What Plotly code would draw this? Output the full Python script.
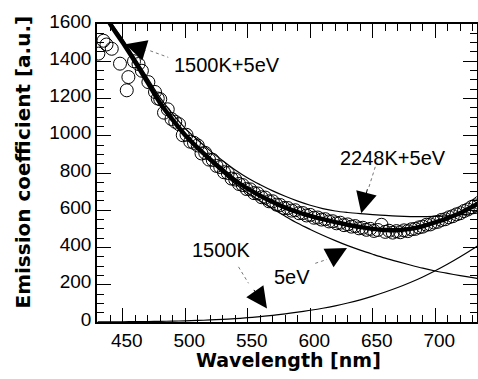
import plotly.graph_objects as go

# ---------------- data ----------------
wl_curve = [430, 440, 450, 460, 470, 480, 490, 500, 510, 520, 530, 540, 550, 560,
            570, 580, 590, 600, 610, 620, 630, 640, 650, 660, 670, 680, 690, 700,
            710, 720, 730, 740]

bb_1500K = [0.5, 0.7, 1.2, 1.8, 2.5, 3.4, 4.6, 6.2, 8.3, 11, 14, 18, 23, 29,
            36, 44, 53, 63, 74, 87, 102, 119, 139, 161, 185, 212, 242, 275,
            311, 350, 392, 437]

ev_5eV = [1720, 1599, 1499, 1393, 1283, 1172, 1080, 997, 927, 862, 801, 742, 693, 650,
          608, 568, 530, 497, 466, 437, 410, 386, 364, 343, 324, 306, 289, 274,
          261, 249, 238, 228]

fit_1500K_5eV = [1720, 1600, 1500, 1395, 1285, 1175, 1085, 1003, 935, 873, 815, 760, 716, 678,
                 644, 614, 590, 570, 552, 536, 522, 510, 500, 494, 493, 500, 514, 535,
                 558, 585, 620, 658]

fit_2248K_5eV = [1731, 1613, 1517, 1414, 1308, 1203, 1116, 1040, 977, 919, 866, 816, 773, 737,
                 704, 675, 649, 627, 609, 596, 588, 582, 577, 572, 568, 566, 566, 567,
                 570, 575, 582, 590]

wl_data = [430.5, 434.6, 437.0, 441.2, 447.8, 453.2, 454.5, 459.0, 462.6, 465.3, 470.5, 475.8, 478.0,
           480, 483, 486, 489, 492, 495, 498, 501, 504, 507, 510, 513, 516, 519, 522, 525,
           528, 531, 534, 537, 540, 543, 546, 549, 552, 555, 558, 561, 564, 567, 570, 573,
           576, 579, 582, 585, 588, 591, 594, 597, 600, 603, 606, 609, 612, 615, 618, 621,
           624, 627, 630, 633, 636, 639, 642, 645, 648, 651, 654, 657, 660, 663, 666, 669,
           672, 675, 678, 681, 684, 687, 690, 693, 696, 699, 702, 705, 708, 711, 714, 717,
           720, 723, 726, 729, 732, 735]

em_data = [1441, 1510, 1490, 1467, 1387, 1244, 1315, 1400, 1385, 1349, 1288, 1235, 1200,
           1196, 1124, 1142, 1090, 1075, 1062, 1003, 1005, 968, 962, 948, 905, 908, 872, 870, 838,
           832, 804, 800, 770, 765, 741, 735, 714, 712, 692, 690, 670, 668, 648, 648, 630,
           628, 612, 612, 598, 600, 584, 585, 572, 575, 560, 561, 550, 552, 540, 541, 530,
           533, 520, 524, 512, 515, 503, 506, 495, 500, 489, 494, 522, 484, 490, 480, 488,
           482, 492, 488, 498, 500, 508, 512, 522, 524, 534, 538, 548, 552, 562, 568, 578,
           584, 596, 604, 617, 626, 640]

x_ticks = [450, 500, 550, 600, 650, 700]
y_ticks = [0, 200, 400, 600, 800, 1000, 1200, 1400, 1600]

# annotation placement (tip in data units, tail offset in px, label anchor)
labels = [
    # text, label_x, label_y, tip_x, tip_y, ax, ay, dot_x0, dot_y0, dot_x1, dot_y1
    ("1500K+5eV", 489.0, 1378, 452.0, 1491, 21.5, 6.5, 472.0, 1456, 486.4, 1421),
    ("2248K+5eV", 622.4, 882, 640.8, 584, 6.5, -25.5, 652.0, 833, 646.6, 717),
    ("1500K", 504.0, 386, 565.4, 73, -14.2, -20, 542.6, 296, 550.6, 208),
    ("5eV", 569.4, 244, 629.4, 397, -18.4, 10, 604.0, 315, 613.4, 336),
]

fig = go.Figure()

fig.add_trace(go.Scatter(x=wl_data, y=em_data, mode="markers",
                         marker=dict(symbol="circle-open", size=13, color="black",
                                     line=dict(width=1, color="black")),
                         showlegend=False))
fig.add_trace(go.Scatter(x=wl_curve, y=bb_1500K, mode="lines", line_shape="spline",
                         line=dict(color="black", width=1.2), showlegend=False))
fig.add_trace(go.Scatter(x=wl_curve, y=ev_5eV, mode="lines", line_shape="spline",
                         line=dict(color="black", width=1.2), showlegend=False))
fig.add_trace(go.Scatter(x=wl_curve, y=fit_2248K_5eV, mode="lines", line_shape="spline",
                         line=dict(color="black", width=1.2), showlegend=False))
fig.add_trace(go.Scatter(x=wl_curve, y=fit_1500K_5eV, mode="lines", line_shape="spline",
                         line=dict(color="black", width=4.5), showlegend=False))

lab_font = dict(family="Liberation Sans, Arial, sans-serif", size=20, color="black")
for (txt, lx, ly, tx, ty, ax, ay, dx0, dy0, dx1, dy1) in labels:
    fig.add_annotation(x=lx, y=ly, text=txt, showarrow=False, xanchor="left",
                       yanchor="middle", font=lab_font)
    fig.add_annotation(x=tx, y=ty, text="", showarrow=True, ax=ax, ay=ay,
                       arrowhead=2, arrowsize=4.2, arrowwidth=1, arrowcolor="black",
                       standoff=0)
    fig.add_shape(type="line", x0=dx0, y0=dy0, x1=dx1, y1=dy1, xref="x", yref="y",
                  line=dict(color="#777777", width=1, dash="dot"))

# axis titles placed as annotations (pixel positions converted to paper units)
W, H = 478, 379
pl, pr, pt, pb = 97, 1, 24, 57
pw, ph = W - pl - pr, H - pt - pb

title_font_x = dict(family="DejaVu Sans", size=19, color="black", weight="bold")
title_font_y = dict(family="DejaVu Sans", size=20, color="black", weight="bold")
fig.add_annotation(x=(288.5 - pl) / pw, y=((H - 360) - pb) / ph, xref="paper", yref="paper",
                   text="Wavelength [nm]", showarrow=False, font=title_font_x,
                   xanchor="center", yanchor="middle")
fig.add_annotation(x=(22.5 - pl) / pw, y=((H - 162) - pb) / ph, xref="paper", yref="paper",
                   text="Emission coefficient [a.u.]", showarrow=False, font=title_font_y,
                   textangle=-90, xanchor="center", yanchor="middle")

tick_font = dict(family="Liberation Sans, Arial, sans-serif", size=19, color="black")

fig.update_layout(
    width=W, height=H,
    margin=dict(l=pl, r=pr, t=pt, b=pb),
    plot_bgcolor="white", paper_bgcolor="white",
    template="none",
)
fig.update_xaxes(range=[429.4, 733.4], tickmode="array", tickvals=x_ticks,
                 ticklabelshift=4,
                 showline=True, linecolor="black", linewidth=1.5, mirror="allticks",
                 ticks="inside", ticklen=14, tickwidth=1.2, tickcolor="black",
                 showgrid=False, zeroline=False, tickfont=tick_font,
                 minor=dict(dtick=10, tick0=430, ticklen=7, ticks="inside",
                            tickcolor="black", tickwidth=1, showgrid=False))
fig.update_yaxes(range=[0, 1600], tickmode="array", tickvals=y_ticks, ticksuffix=" ",
                 ticklabelshift=-3,
                 showline=True, linecolor="black", linewidth=1.5, mirror="allticks",
                 ticks="inside", ticklen=14, tickwidth=1.2, tickcolor="black",
                 showgrid=False, zeroline=False, tickfont=tick_font,
                 minor=dict(dtick=50, tick0=0, ticklen=7, ticks="inside",
                            tickcolor="black", tickwidth=1, showgrid=False))

fig.write_html("out.html")
